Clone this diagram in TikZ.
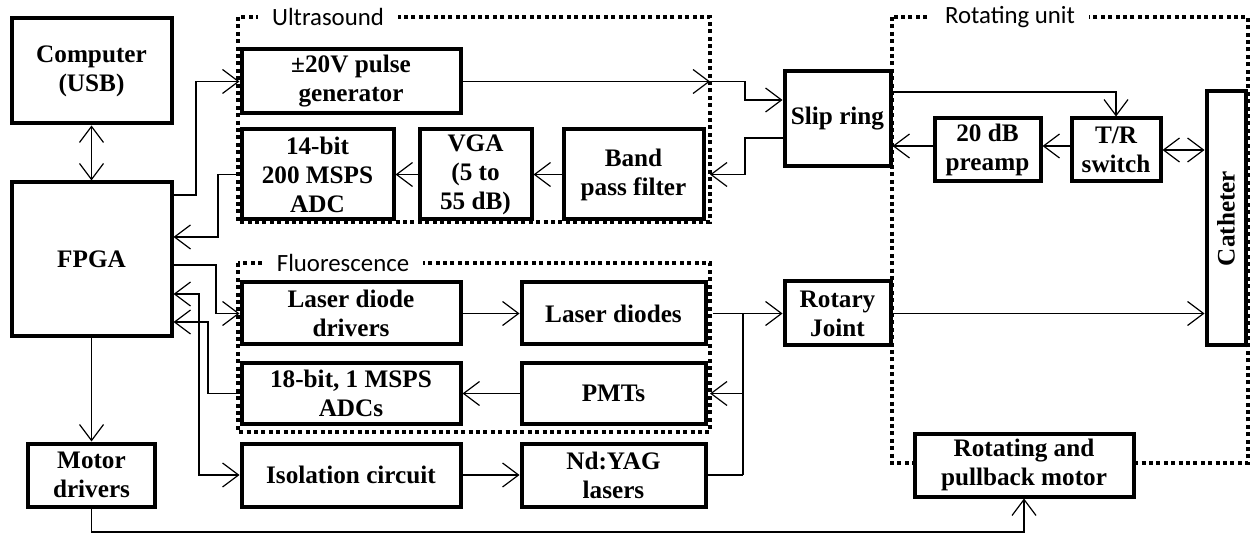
\documentclass[tikz,border=0pt]{standalone}
\usepackage{fontspec}
\setmainfont{Liberation Serif}
\newfontfamily\lblfont{Carlito}
\usetikzlibrary{arrows.meta}
\usetikzlibrary{calc}

\tikzset{
  blk/.style={draw, fill=white, line width=2pt, align=center, inner sep=0pt,
    font=\fontsize{12.6}{14.5}\selectfont\bfseries},
  bx/.style 2 args={minimum width=#1*0.5pt, minimum height=#2*0.5pt},
  frm/.style={line width=2pt, dash pattern=on 2pt off 1.7pt},
  frmlbl/.style={fill=white, inner xsep=7pt, inner ysep=1pt,
    font=\fontsize{12.4}{14}\selectfont\lblfont},
  con/.style={line width=0.6pt},
  >={Straight Barb[length=8pt,width=12pt]}
}

\begin{document}
\begin{tikzpicture}[x=0.5pt, y=-0.5pt]
\useasboundingbox (0,0) rectangle (1250,535);
%\draw[help lines, step=50] (0,0) grid (1250,535);

% dotted frames
\coordinate (usNW) at (238,17);
\coordinate (usSE) at (710,222);
\coordinate (flNW) at (238,263);
\coordinate (flSE) at (710,432);
\coordinate (ruNW) at (892,17);
\coordinate (ruSE) at (1248,463);
\draw[frm] (usNW) rectangle (usSE);
\draw[frm] (flNW) rectangle (flSE);
\draw[frm] (ruNW) rectangle (ruSE);
\node[frmlbl] (uslbl) at (328,17) {Ultrasound};
\node[frmlbl] (fllbl) at (343,263) {Fluorescence};
\node[frmlbl] (rulbl) at (1010,17) {Rotating unit};

% blocks
\node[blk, bx={160}{105}] (comp) at (91.5,71) {Computer\\(USB)};
\node[blk, bx={160}{154}] (fpga) at (91.5,259.5) {FPGA};
\node[blk, bx={127}{63}] (mdrv) at (91.5,475) {Motor\\drivers};
\node[blk, bx={219}{64}] (pulse) at (351,81.5) {±20V pulse\\generator};
\node[blk, bx={152}{90}] (adc14) at (317.5,174.5) {14-bit\\200 MSPS\\ADC};
\node[blk, bx={112}{90}] (vga) at (475.5,174.5) {VGA\\(5 to\\55 dB)};
\node[blk, bx={140}{90}] (bpf) at (633.5,174.5) {Band\\pass filter};
\node[blk, bx={106}{95}] (slip) at (837.5,119) {Slip ring};
\node[blk, bx={106}{63}] (preamp) at (987.5,150) {20 dB\\preamp};
\node[blk, bx={89}{63}] (trsw) at (1116,150) {T/R\\switch};
\node[blk, bx={39}{254}, label={[rotate=90, font=\fontsize{12.6}{14.5}\selectfont\bfseries]center:Catheter}] (cath) at (1226,218.5) {};
\node[blk, bx={219}{62}] (ldd) at (351,313.5) {Laser diode\\drivers};
\node[blk, bx={184}{62}] (ld) at (613.5,313.5) {Laser diodes};
\node[blk, bx={106}{64}] (rotj) at (837.5,313.5) {Rotary\\Joint};
\node[blk, bx={219}{60}] (adc18) at (351,393.5) {18-bit, 1 MSPS\\ADCs};
\node[blk, bx={184}{60}] (pmt) at (613.5,393.5) {PMTs};
\node[blk, bx={219}{63}] (iso) at (351,475) {Isolation circuit};
\node[blk, bx={184}{63}] (ndyag) at (613.5,475) {Nd:YAG\\lasers};
\node[blk, bx={219}{63}] (rpm) at (1024,465) {Rotating and\\pullback motor};

% FPGA side
\draw[con, <->] (comp) -- (fpga);
\draw[con, ->] (fpga.east |- 0,195) -- (196,195) |- (pulse.west);
\draw[con, ->] (adc14.west) -| (218,237) -- (fpga.east |- 0,237);
\draw[con, ->] (fpga.east |- 0,265) -- (216,265) |- (ldd.west);
\draw[con, <->] (fpga.east |- 0,294) -- (199,294) |- (iso.west);
\draw[con, ->] (adc18.west) -| (208,322) -- (fpga.east |- 0,322);
\draw[con, ->] (fpga) -- (mdrv);
\draw[con, ->] (mdrv.south) -- (mdrv.south |- 0,532) -| (rpm.south);

% ultrasound chain
\draw[con, ->] (pulse.east) -- (usSE |- pulse.east);
\draw[con, ->] (usSE |- pulse.east) -- (745,81.5) |- (slip.west |- 0,100);
\draw[con, ->] (slip.west |- 0,138) -- (745,138) |- (usSE |- bpf.east);
\draw[con, ->] (bpf) -- (vga);
\draw[con, ->] (vga) -- (adc14);
\draw[con, ->] (slip.east |- 0,92) -| (trsw.north);
\draw[con, ->] (trsw.west |- 0,146) -- (preamp.east |- 0,146);
\draw[con, ->] (preamp.west |- 0,146) -- (slip.east |- 0,146);
\draw[con, <->] (trsw.east) -- (cath.west |- trsw.east);

% fluorescence chain
\coordinate (jt) at (743,313.5);
\coordinate (jb) at (743,475);
\draw[con, ->] (ldd) -- (ld);
\draw[con, ->] (713,313.5) -- (rotj.west);
\draw[con] (jt) -- (jb);
\draw[con] (ndyag.east) -- (jb);
\draw[con, ->] (jt |- pmt) -- (flSE |- pmt);
\draw[con, ->] (pmt) -- (adc18);
\draw[con, ->] (iso) -- (ndyag);
\draw[con, ->] (rotj.east) -- (cath.west |- rotj.east);
\end{tikzpicture}
\end{document}
